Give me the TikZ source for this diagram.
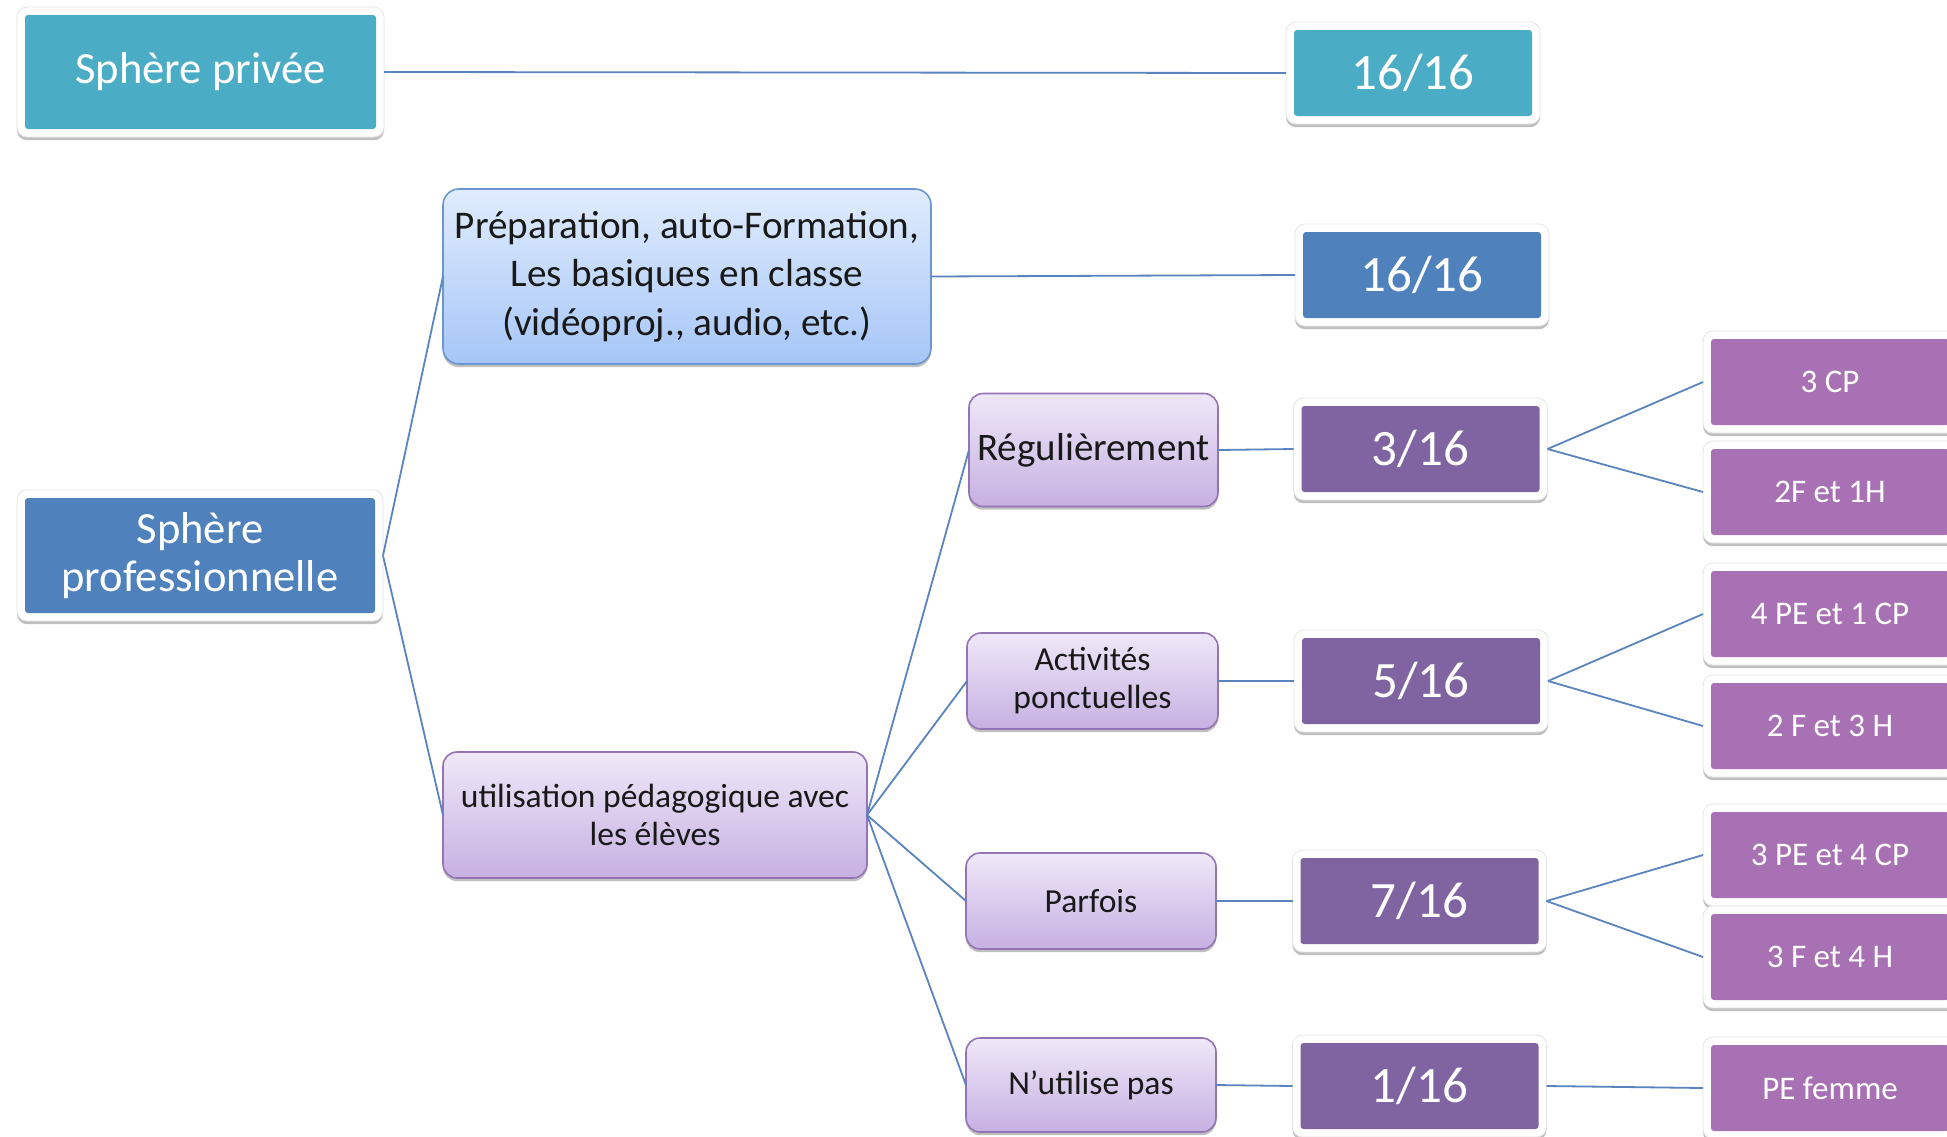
\documentclass[tikz,border=0pt]{standalone}
\usepackage{fontspec}
\setmainfont{Carlito}
\usetikzlibrary{shadows}
\definecolor{tealA}{HTML}{4BACC6}
\definecolor{blueA}{HTML}{4F81BD}
\definecolor{purpA}{HTML}{8064A2}
\definecolor{purpB}{HTML}{A871B3}
\definecolor{prepTop}{HTML}{E0ECFD}
\definecolor{prepBot}{HTML}{A6C6F7}
\definecolor{prepLine}{HTML}{6A97D2}
\definecolor{lilTop}{HTML}{EFE8F8}
\definecolor{lilBot}{HTML}{C6B0E2}
\definecolor{lilLine}{HTML}{9474B5}
\definecolor{connC}{HTML}{5A84C0}
\tikzset{
  shad/.style={drop shadow={shadow xshift=0pt, shadow yshift=-1.6pt, opacity=0.25, fill=black}},
  framed/.style={fill=white, draw=black!10, line width=0.4pt, rounded corners=5pt, shad,
    minimum width=127pt, minimum height=51pt,
    inner sep=0pt, outer sep=0pt, text=white, align=center,
    path picture={\fill[#1, rounded corners=1.5pt]
      ([xshift=4pt,yshift=-4pt]path picture bounding box.north west) rectangle
      ([xshift=-4pt,yshift=4pt]path picture bounding box.south east);}},
  gradblue/.style={top color=prepTop, bottom color=prepBot, draw=prepLine, line width=0.8pt,
    rounded corners=8pt, shad, inner sep=0pt, outer sep=0pt, align=center, text=black!90},
  gradlil/.style={top color=lilTop, bottom color=lilBot, draw=lilLine, line width=0.8pt,
    rounded corners=7pt, shad, inner sep=0pt, outer sep=0pt, align=center, text=black!90},
  conn/.style={draw=connC, line width=0.9pt},
  bigf/.style={font=\fontsize{22.3}{23.7}\selectfont},
  fracf/.style={font=\fontsize{25.5}{28}\selectfont},
  prepf/.style={font=\fontsize{19.6}{24.2}\selectfont},
  regf/.style={font=\fontsize{19.5}{23}\selectfont},
  midf/.style={font=\fontsize{16.8}{19.2}\selectfont},
  smf/.style={font=\fontsize{16.8}{19}\selectfont},
  rightf/.style={font=\fontsize{16.5}{19}\selectfont},
}
\begin{document}
\begin{tikzpicture}[x=0.5pt,y=-0.5pt]
\useasboundingbox (0,0) rectangle (1947,1136);
\clip (0,0) rectangle (1947,1136);
\fill[white] (0,0) rectangle (1947,1136);

% left column
\node[framed=tealA, minimum width=183.5pt, minimum height=65pt, bigf] (privee) at (200.5,72) {Sphère privée};
\node[framed=blueA, minimum width=183pt, minimum height=65.5pt, bigf] (pro) at (200,555.5) {Sphère\\professionnelle};

% second column
\node[gradblue, minimum width=244pt, minimum height=87.5pt, prepf] (prep) at (687,276.5)
  {Préparation, auto-Formation,\\Les basiques en classe\\(vidéoproj., audio, etc.)};
\node[gradlil, minimum width=212pt, minimum height=63pt, midf] (util) at (655,815)
  {utilisation pédagogique avec\\les élèves};

% third column
\node[gradlil, minimum width=124.5pt, minimum height=56.5pt, regf] (reg) at (1093.5,450) {Régulièrement};
\node[gradlil, minimum width=125.5pt, minimum height=48pt, smf] (act) at (1092.5,681) {Activités\\ponctuelles};
\node[gradlil, minimum width=125pt, minimum height=48pt, smf] (parf) at (1091,901) {Parfois};
\node[gradlil, minimum width=125pt, minimum height=47pt, smf] (nut) at (1091,1085) {N’utilise pas};

% fractions
\node[framed=tealA, fracf] (frac0) at (1413,73) {16/16};
\node[framed=blueA, fracf] (frac1) at (1422,275) {16/16};
\node[framed=purpA, fracf] (f3) at (1420.5,449) {3/16};
\node[framed=purpA, fracf] (f5) at (1421,681) {5/16};
\node[framed=purpA, fracf] (f7) at (1419.5,901) {7/16};
\node[framed=purpA, fracf] (f1) at (1419.5,1086) {1/16};

% right column
\node[framed=purpB, rightf] (r1) at (1830,382) {3 CP};
\node[framed=purpB, rightf] (r2) at (1830,492) {2F et 1H};
\node[framed=purpB, rightf] (r3) at (1830,614) {4 PE et 1 CP};
\node[framed=purpB, rightf] (r4) at (1830,726) {2 F et 3 H};
\node[framed=purpB, rightf] (r5) at (1830,855) {3 PE et 4 CP};
\node[framed=purpB, rightf] (r6) at (1830,957) {3 F et 4 H};
\node[framed=purpB, rightf] (r7) at (1830,1088) {PE femme};

% connectors
\draw[conn] (privee.east) -- (frac0.west);
\draw[conn] (pro.east) -- (prep.west);
\draw[conn] (pro.east) -- (util.west);
\draw[conn] (prep.east) -- (frac1.west);
\draw[conn] (util.east) -- (reg.west);
\draw[conn] (util.east) -- (act.west);
\draw[conn] (util.east) -- (parf.west);
\draw[conn] (util.east) -- (nut.west);
\draw[conn] (reg.east) -- (f3.west);
\draw[conn] (act.east) -- (f5.west);
\draw[conn] (parf.east) -- (f7.west);
\draw[conn] (nut.east) -- (f1.west);
\draw[conn] (f3.east) -- (r1.west);
\draw[conn] (f3.east) -- (r2.west);
\draw[conn] (f5.east) -- (r3.west);
\draw[conn] (f5.east) -- (r4.west);
\draw[conn] (f7.east) -- (r5.west);
\draw[conn] (f7.east) -- (r6.west);
\draw[conn] (f1.east) -- (r7.west);
\end{tikzpicture}
\end{document}
